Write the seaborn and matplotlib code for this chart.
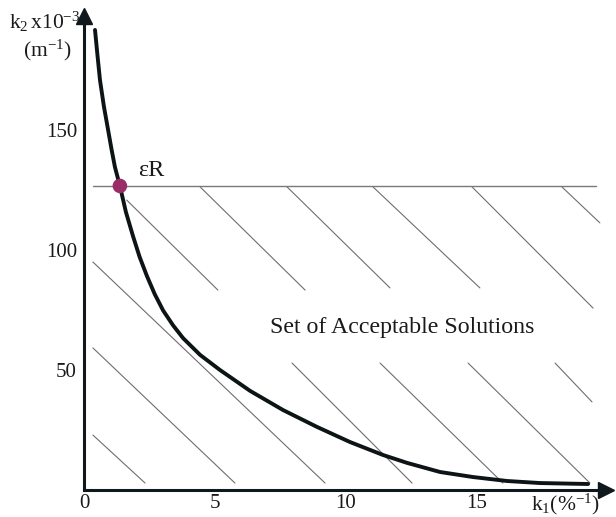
import numpy as np
import pandas as pd
import matplotlib
matplotlib.use("Agg")
import matplotlib.pyplot as plt
import seaborn as sns

# ---- data ----
k1_curve = [0.42, 0.52, 0.61, 0.76, 0.92, 1.05, 1.18, 1.37, 1.60, 1.87, 2.12, 2.40, 2.70,
            3.02, 3.40, 3.78, 4.43, 5.19, 6.34, 7.60, 8.89, 10.15, 11.41, 12.33,
            13.59, 14.85, 16.15, 17.40, 19.24]
k2_curve = [191.7, 180.5, 170.8, 159.8, 150.0, 142.0, 134.6, 126.7, 115.8, 105.8, 97.2, 89.2, 81.6,
            74.8, 68.6, 63.3, 56.3, 50.0, 41.3, 33.3, 26.3, 20.0, 14.6, 11.3,
            7.5, 5.4, 3.75, 2.9, 2.5]

eps_k1 = 1.37
eps_k2 = 126.7
bound_k1 = [0.35, 19.54]
bound_k2 = [126.7, 126.7]

hatch_k1_start = [1.63, 4.43, 7.75, 0.34, 11.03, 14.81, 18.24, 0.34, 0.34, 7.94, 11.30, 14.66, 17.98]
hatch_k2_start = [120.8, 126.3, 126.3, 95.0, 126.3, 126.3, 126.3, 59.2, 22.9, 52.9, 52.9, 52.9, 52.9]
hatch_k1_end = [5.11, 8.44, 11.68, 9.20, 15.11, 19.43, 19.69, 5.76, 2.33, 12.52, 15.99, 19.31, 19.39]
hatch_k2_end = [83.3, 83.3, 84.2, 2.9, 84.2, 75.8, 111.3, 2.9, 2.9, 2.9, 2.9, 2.9, 36.7]

x_ticks = [0, 2.5, 5, 7.5, 10, 12.5, 15, 17.5]
x_ticklabels = ["0", "", "5", "", "10", "", "15", ""]
y_ticks = [25, 50, 75, 100, 125, 150, 175]
y_ticklabels = ["", "50", "", "100", "", "150", ""]

region_label = "Set of Acceptable Solutions"
point_label = "εR"
x_label = r"k$_1$(%$^{-1}$)"
y_label_1 = r"k$_2\,$x10$^{-3}$"
y_label_2 = r"(m$^{-1}$)"

# ---- styling ----
sns.set_theme(style="white")
plt.rcParams["font.family"] = ["Liberation Serif", "DejaVu Serif"]
plt.rcParams["mathtext.fontset"] = "custom"
plt.rcParams["mathtext.rm"] = "Liberation Serif"
plt.rcParams["mathtext.it"] = "Liberation Serif:italic"
plt.rcParams["mathtext.default"] = "rm"

W, H = 616, 517
fig = plt.figure(figsize=(W / 100, H / 100), dpi=100)
x0_px, y0_px = 84, 490
xr_px, yt_px = 606, 16
ax = fig.add_axes([x0_px / W, (H - y0_px) / H, (xr_px - x0_px) / W, (y0_px - yt_px) / H])
ax.set_xlim(0, (xr_px - x0_px) / 26.2)
ax.set_ylim(0, (y0_px - yt_px) / 2.4)

axis_col = "#0f181c"
text_col = "#1a1a1a"

# hatch segments
hatch = pd.DataFrame({
    "seg": list(range(len(hatch_k1_start))) * 2,
    "k1": hatch_k1_start + hatch_k1_end,
    "k2": hatch_k2_start + hatch_k2_end,
})
sns.lineplot(data=hatch, x="k1", y="k2", units="seg", estimator=None,
             color="#6e6e6e", linewidth=0.8, sort=False, ax=ax, zorder=2)

# boundary line
sns.lineplot(x=bound_k1, y=bound_k2, color="#7a7a7a", linewidth=1.0, ax=ax, zorder=2)

# curve
curve = pd.DataFrame({"k1": k1_curve, "k2": k2_curve})
sns.lineplot(data=curve, x="k1", y="k2", color="#0c1416", linewidth=2.8,
             sort=False, ax=ax, zorder=3, solid_joinstyle="round", solid_capstyle="round")

# point
sns.scatterplot(x=[eps_k1], y=[eps_k2], color="#9a2c68", s=110, edgecolor="none",
                ax=ax, zorder=4)
ax.text(eps_k1 + 0.7, eps_k2 + 2.0, point_label, fontsize=17.5, ha="left", va="bottom",
        color=text_col)

ax.text(12.14, 67.5, region_label, fontsize=17.2, ha="center", va="center", color=text_col)

# axes
for s in ["top", "right"]:
    ax.spines[s].set_visible(False)
for s in ["left", "bottom"]:
    ax.spines[s].set_linewidth(2.2)
    ax.spines[s].set_color(axis_col)
ax.plot(1, 0, ">", ms=11, color=axis_col, transform=ax.get_yaxis_transform(), clip_on=False)
ax.plot(0, 1, "^", ms=11, color=axis_col, transform=ax.get_xaxis_transform(), clip_on=False)

ax.set_xticks(x_ticks)
ax.set_xticklabels(x_ticklabels)
ax.set_yticks(y_ticks)
ax.set_yticklabels(y_ticklabels)
ax.tick_params(direction="in", length=4, width=1.4, color=axis_col, labelsize=15,
               labelcolor=text_col)
ax.tick_params(axis="x", pad=3)
ax.tick_params(axis="y", pad=5)
ax.set_xlabel("")
ax.set_ylabel("")

fig.text(80 / W, 1 - 22 / H, y_label_1, fontsize=15.5, ha="right", va="center", color=text_col)
fig.text(47 / W, 1 - 50 / H, y_label_2, fontsize=15.5, ha="center", va="center", color=text_col)
fig.text(565 / W, 1 - 504 / H, x_label, fontsize=15.5, ha="center", va="center", color=text_col)

fig.savefig("out.png", dpi=100, facecolor="white")
